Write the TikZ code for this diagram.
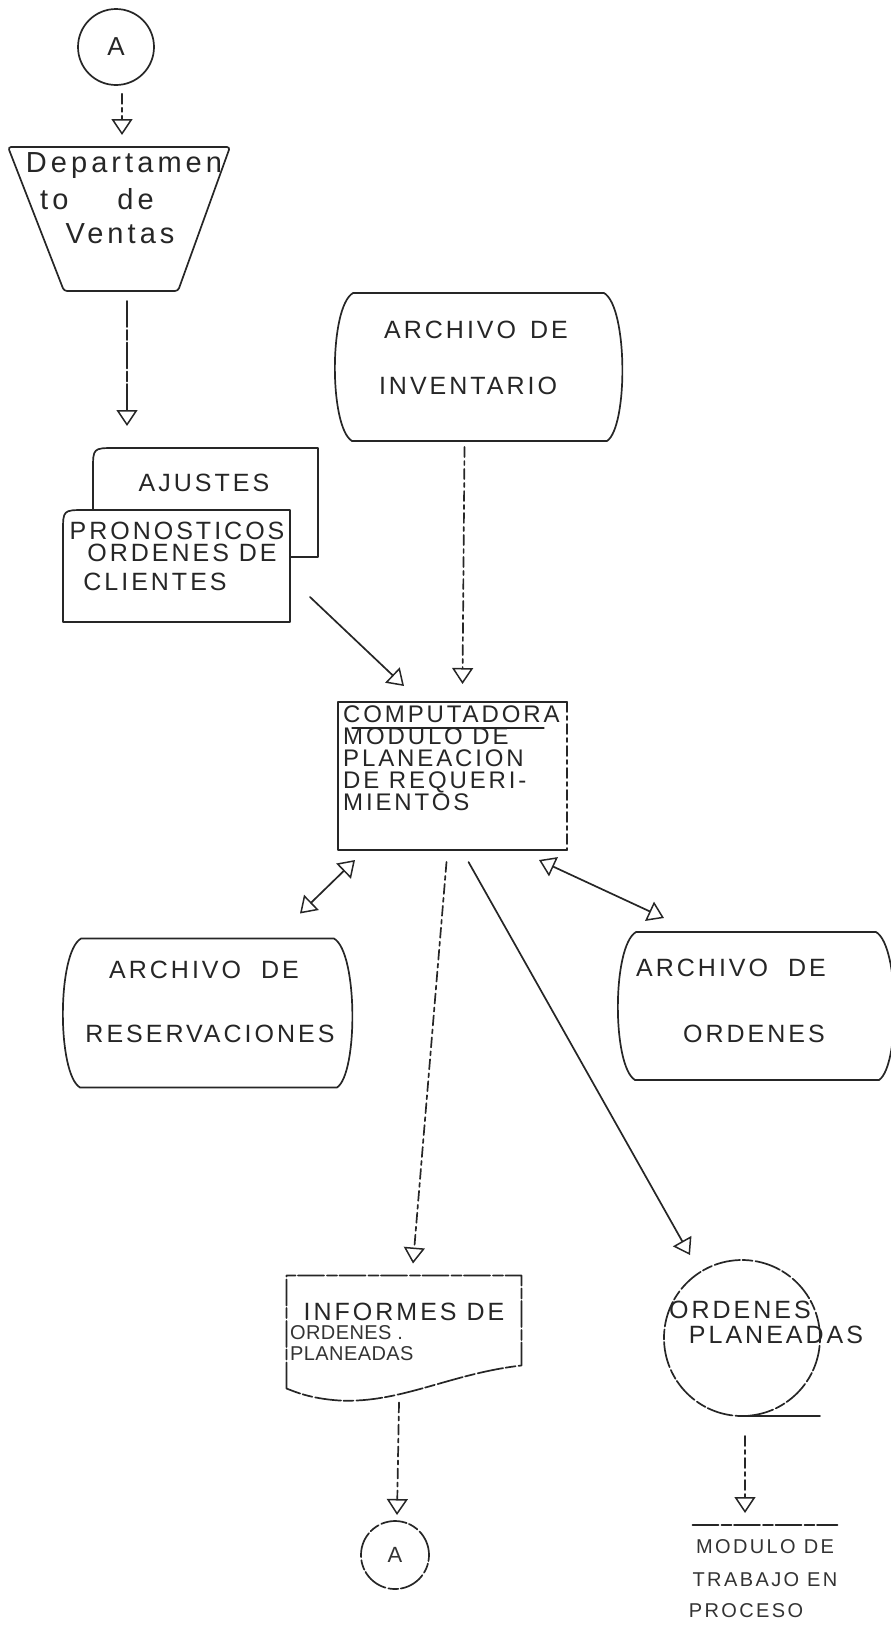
\documentclass[tikz,border=0pt]{standalone}
\usepackage{fontspec}
\setmainfont{Liberation Sans}
\newfontfamily\lettering[LetterSpace=12]{Liberation Sans}
\newfontfamily\wideletter[LetterSpace=14]{Liberation Sans}
\newfontfamily\tightletter[LetterSpace=2]{Liberation Sans}
\usetikzlibrary{arrows.meta,calc}

\tikzset{
  ln/.style={line width=1.7pt, draw=black!85, line cap=round, line join=round},
  scan/.style={dash pattern=on 26pt off 3pt on 10pt off 2.5pt},
  brk/.style={dash pattern=on 10pt off 4pt on 4pt off 4pt},
  tip/.style={-{Triangle[open,length=16pt,width=21pt,line width=1.5pt]}},
  twotip/.style={{Triangle[open,length=16pt,width=21pt,line width=1.5pt]}-{Triangle[open,length=16pt,width=21pt,line width=1.5pt]}},
  area/.style={inner sep=0pt, outer sep=0pt},
  txt/.style={text=black!85, inner sep=0pt, font=\lettering\fontsize{25}{30}\selectfont},
  dtxt/.style={text=black!85, inner sep=0pt, font=\wideletter\fontsize{29}{30}\selectfont},
  small/.style={text=black!80, inner sep=0pt, font=\lettering\fontsize{20}{24}\selectfont},
  tight/.style={text=black!80, inner sep=0pt, font=\tightletter\fontsize{20}{24}\selectfont},
}

% on-line storage outline with bulging sides, drawn round a node
\newcommand\storagebox[1]{%
  \draw[ln] ($(#1.north west)+(16,0)$) -- ($(#1.north east)+(-16,0)$)
    .. controls ($(#1.north east)+(8,14)$) and ($(#1.south east)+(8,-14)$) .. ($(#1.south east)+(-13,0)$)
    -- ($(#1.south west)+(15,0)$)
    .. controls ($(#1.south west)+(-8,-14)$) and ($(#1.north west)+(-8,14)$) .. cycle;}

% card outline with a rounded upper left corner
\newcommand\cardbox[2]{%
  \draw[ln,#2] (#1.south west) -- ($(#1.north west)+(0,22)$)
    .. controls (#1.north west) .. ($(#1.north west)+(22,0)$)
    -- (#1.north east) -- (#1.south east) -- cycle;}

\begin{document}
\begin{tikzpicture}[x=1pt,y=-1pt]
\useasboundingbox (0,0) rectangle (891,1626);

% ---- entry connector and sales department ----
\node[circle, ln, draw, minimum size=76pt, inner sep=0pt, text=black!85,
      font=\fontsize{26}{26}\selectfont] (a1) at (116,47) {A};

\node[area, minimum width=222pt, minimum height=144pt] (dept) at (119,219) {};
\draw[ln, rounded corners=3pt] (dept.north west) -- (dept.north east)
  -- ($(dept.south east)+(-52,0)$) -- ($(dept.south west)+(56,0)$) -- cycle;
\node[dtxt] (deptA) at (124,166) {Departamen};
\node[dtxt] (deptB) at (97,199) {to\hspace{49pt}de};
\node[dtxt] (deptC) at (120,234) {Ventas};

% ---- stacked cards ----
\node[area, minimum width=225pt, minimum height=109pt] (adj) at (205.5,502.5) {};
\node[area, minimum width=227pt, minimum height=112pt] (prn) at (176.5,566) {};
\cardbox{adj}{}
\cardbox{prn}{fill=white}
\node[txt] (adjT) at (204,483) {AJUSTES};
\node[txt] (prnA) at (177,531) {PRONOSTICOS};
\node[txt] (prnB) at (182,553) {ORDENES DE};
\node[txt] (prnC) at (155,582) {CLIENTES};

% ---- inventory file ----
\node[area, minimum width=283pt, minimum height=148pt] (inv) at (478.5,367) {};
\storagebox{inv}
\node[txt] (invA) at (476,330) {ARCHIVO\hspace{14pt}DE};
\node[txt] (invB) at (468,386) {INVENTARIO};

% ---- computer ----
\node[area, minimum width=229pt, minimum height=148pt] (comp) at (452.5,776) {};
\draw[ln] (comp.south east) -- (comp.south west) -- (comp.north west) -- (comp.north east);
\draw[ln, brk] (comp.north east) -- (comp.south east);
\node[txt, anchor=north west, align=left, font=\lettering\fontsize{24}{22}\selectfont]
  (compT) at (343,706) {COMPUTADORA\\MODULO DE\\PLANEACION\\DE REQUERI-\\MIENTOS};
\draw[ln, line width=1.1pt] ($(comp.north west)+(14,26)$) -- ($(comp.north west)+(206,26)$);

% ---- reservation and order files ----
\node[area, minimum width=285pt, minimum height=149pt] (res) at (207.5,1013) {};
\storagebox{res}
\node[txt] (resA) at (204,970) {ARCHIVO\hspace{20pt}DE};
\node[txt] (resB) at (210,1034) {RESERVACIONES};

\node[area, minimum width=272pt, minimum height=148pt] (ord) at (756,1006) {};
\storagebox{ord}
\node[txt] (ordA) at (731,968) {ARCHIVO\hspace{20pt}DE};
\node[txt] (ordB) at (754,1034) {ORDENES};

% ---- report document ----
\node[area, minimum width=235pt, minimum height=123pt] (doc) at (404,1337) {};
\draw[ln, scan] ($(doc.south west)+(0,-10)$) -- (doc.north west) -- (doc.north east)
  -- ($(doc.south east)+(0,-33)$)
  .. controls ($(doc.south east)+(-71,-25)$) and ($(doc.south east)+(-121,5)$) .. ($(doc.south west)+(53,2)$)
  .. controls ($(doc.south west)+(23,0)$) and ($(doc.south west)+(8,-7)$) .. ($(doc.south west)+(0,-10)$);
\node[txt] (docA) at (404,1312) {INFORMES DE};
\node[tight, anchor=west] (docB) at (290,1333) {ORDENES .};
\node[tight, anchor=west] (docC) at (290,1354) {PLANEADAS};

% ---- planned orders tape ----
\node[circle, area, minimum size=156pt] (tape) at (742,1338) {};
\draw[ln, scan] (tape.center) circle[radius=78pt];
\draw[ln] (tape.south) -- ($(tape.south)+(78,0)$);
\node[txt] (tapeA) at (740,1310) {ORDENES};
\node[txt] (tapeB) at (776,1335) {PLANEADAS};

% ---- exit connector ----
\node[circle, area, minimum size=68pt, text=black!80,
      font=\fontsize{22}{22}\selectfont] (a2) at (395,1555) {A};
\draw[ln, scan] (a2.center) circle[radius=34pt];

% ---- work in process ----
\node[area, minimum width=145pt, minimum height=100pt] (wip) at (765,1575) {};
\draw[ln, scan] (wip.north west) -- (wip.north east);
\node[small] (wipA) at (765,1547) {MODULO DE};
\node[small] (wipB) at (765,1580) {TRABAJO EN};
\node[small] (wipC) at (746,1611) {PROCESO};

% ---- connectors ----
\draw[ln, tip, brk] ($(a1.south)+(6,8)$) -- ($(dept.north)+(3,-12)$);
\draw[ln, tip, scan] ($(dept.south)+(8,10)$) -- ($(adj.north west)+(34,-22)$);
\draw[ln, tip] ($(prn.east)+(20,31)$) -- ($(comp.north west)+(66,-16)$);
\draw[ln, tip, brk] ($(inv.south)+(-14,6)$) -- ($(comp.north)+(10,-18)$);
\draw[ln, twotip] ($(res.north east)+(-50,-25)$) -- ($(comp.south west)+(17,10)$);
\draw[ln, twotip] ($(comp.south east)+(-28,10)$) -- ($(ord.north west)+(44,-14)$);
\draw[ln, tip, brk] ($(comp.south)+(-6,12)$) -- ($(doc.north)+(9,-12)$);
\draw[ln, tip] ($(comp.south)+(16,12)$) -- ($(tape.north)+(-52,-5)$);
\draw[ln, tip, brk] ($(doc.south)+(-5,4)$) -- ($(a2.north)+(2,-6)$);
\draw[ln, tip, brk] ($(tape.south)+(3,20)$) -- ($(wip.north)+(-20,-12)$);
\end{tikzpicture}
\end{document}
